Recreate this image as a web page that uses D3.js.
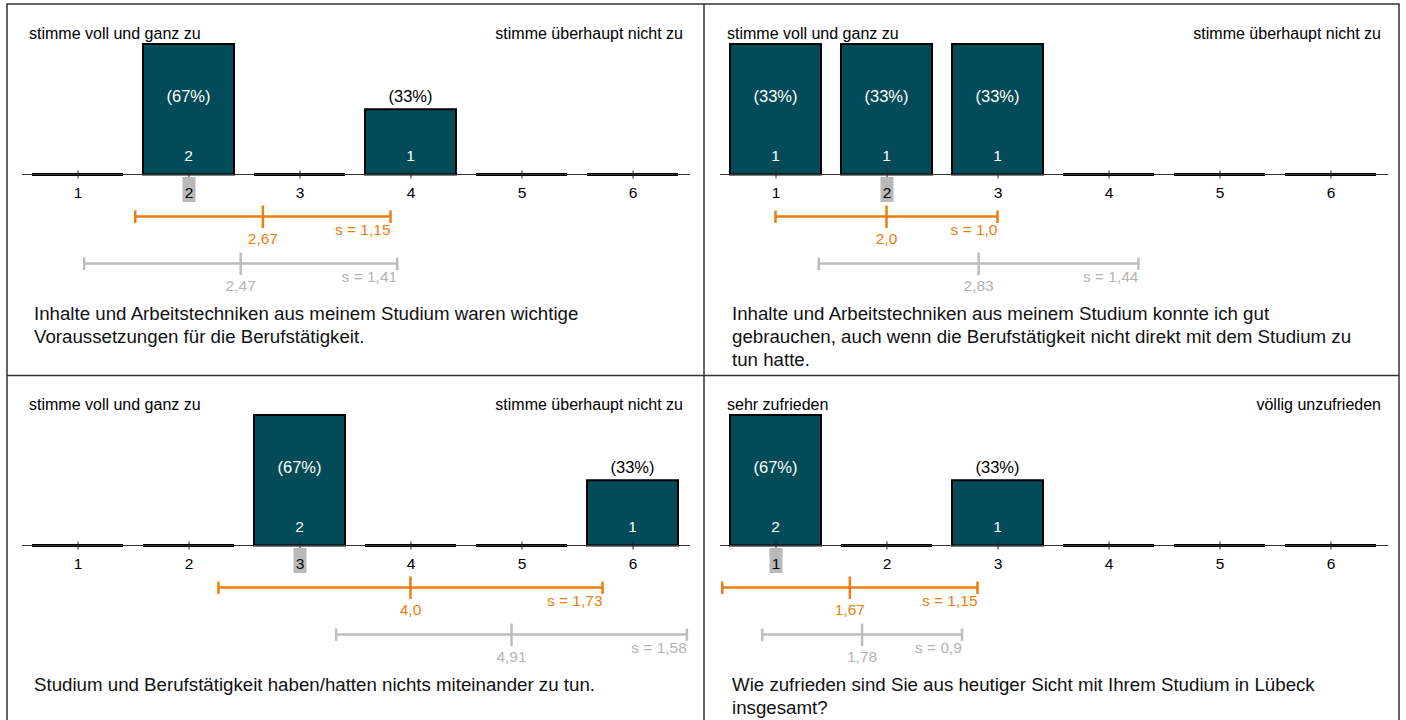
<!DOCTYPE html>
<html><head><meta charset="utf-8">
<script src="https://cdn.jsdelivr.net/npm/d3@7"></script>
<style>
html,body{margin:0;padding:0;background:#fff;}
svg{display:block;font-family:"Liberation Sans",Arial,Helvetica,sans-serif;}
</style></head>
<body><svg id="chart" width="1406" height="720"></svg>
<script>
// ---- data ----
const categories = [1, 2, 3, 4, 5, 6];
const tickLabels = ["1", "2", "3", "4", "5", "6"];
const questions = [
  ["Inhalte und Arbeitstechniken aus meinem Studium waren wichtige", "Voraussetzungen für die Berufstätigkeit."],
  ["Inhalte und Arbeitstechniken aus meinem Studium konnte ich gut", "gebrauchen, auch wenn die Berufstätigkeit nicht direkt mit dem Studium zu", "tun hatte."],
  ["Studium und Berufstätigkeit haben/hatten nichts miteinander zu tun."],
  ["Wie zufrieden sind Sie aus heutiger Sicht mit Ihrem Studium in Lübeck", "insgesamt?"]
];
const leftLabels = ["stimme voll und ganz zu", "stimme voll und ganz zu", "stimme voll und ganz zu", "sehr zufrieden"];
const rightLabels = ["stimme überhaupt nicht zu", "stimme überhaupt nicht zu", "stimme überhaupt nicht zu", "völlig unzufrieden"];
const counts1 = [0, 2, 0, 1, 0, 0];
const counts2 = [1, 1, 1, 0, 0, 0];
const counts3 = [0, 0, 2, 0, 0, 1];
const counts4 = [2, 0, 1, 0, 0, 0];
const medians = [2, 2, 3, 1];
const means = [2.67, 2.0, 4.0, 1.67];
const sds = [1.15, 1.0, 1.73, 1.15];
const refMeans = [2.47, 2.83, 4.91, 1.78];
const refSds = [1.41, 1.44, 1.58, 0.9];

const allCounts = [counts1, counts2, counts3, counts4];
const offsets = [[0, 0], [698, 0], [0, 371], [698, 371]];

const TEAL = "#034b59", ORANGE = "#ee7d0f", GREY = "#bdbdbd", GREYTXT = "#b3b3b3";
const fmt = v => (Number.isInteger(v) ? v.toFixed(1) : String(v)).replace(".", ",");

const svg = d3.select("#chart");

// frame
const frame = svg.append("g").attr("fill", "none").attr("stroke", "#333").attr("stroke-width", 1.5);
frame.append("rect").attr("x", 7).attr("y", 4).attr("width", 1392).attr("height", 730);
frame.append("line").attr("x1", 704).attr("x2", 704).attr("y1", 4).attr("y2", 720);
frame.append("line").attr("x1", 7).attr("x2", 1399).attr("y1", 375.5).attr("y2", 375.5);

const x = d3.scaleLinear().domain([0.5, 6.5]).range([22, 688]);
const step = x(2) - x(1);
const barW = step * 0.82;

allCounts.forEach((counts, i) => {
  const g = svg.append("g").attr("transform", `translate(${offsets[i][0]},${offsets[i][1]})`);
  const total = d3.sum(counts);
  const y = d3.scaleLinear().domain([0, d3.max(counts)]).range([174.5, 44]);

  // end labels
  g.append("text").attr("x", 29).attr("y", 39).attr("font-size", 16).text(leftLabels[i]);
  g.append("text").attr("x", 683).attr("y", 39).attr("font-size", 16).attr("text-anchor", "end").text(rightLabels[i]);

  // bars
  const bars = g.append("g");
  counts.forEach((c, k) => {
    const cx = x(categories[k]);
    if (c > 0) {
      bars.append("rect").attr("x", cx - barW / 2).attr("y", y(c)).attr("width", barW)
        .attr("height", y(0) - y(c)).attr("fill", TEAL).attr("stroke", "#000").attr("stroke-width", 2);
      const inside = y(c) < 88;
      bars.append("text").attr("x", cx).attr("y", 102).attr("text-anchor", "middle").attr("font-size", 16.5)
        .attr("fill", inside ? "#fff" : "#000").text(`(${Math.round(c / total * 100)}%)`);
      bars.append("text").attr("x", cx).attr("y", 161).attr("text-anchor", "middle").attr("font-size", 15.5)
        .attr("fill", "#fff").text(c);
    } else {
      bars.append("line").attr("x1", cx - barW / 2).attr("x2", cx + barW / 2)
        .attr("y1", y(0)).attr("y2", y(0)).attr("stroke", "#000").attr("stroke-width", 3);
    }
  });

  // axis
  const ax = g.append("g").attr("transform", "translate(0,174.5)")
    .call(d3.axisBottom(x).tickValues(categories).tickFormat((d, k) => tickLabels[k])
      .tickSizeInner(4).tickSizeOuter(0).tickPadding(8.5));
  ax.attr("font-family", null).attr("font-size", null);
  ax.select(".domain").attr("stroke", "#333").attr("stroke-width", 1).attr("d", `M22,0H690`);
  ax.selectAll(".tick line").attr("y1", -4).attr("y2", 4).attr("stroke", "#222");
  ax.selectAll(".tick").filter(d => d === medians[i]).insert("rect", "text")
    .attr("x", -6.5).attr("y", 2.5).attr("width", 13).attr("height", 25).attr("fill", "#b9b9b9");
  ax.selectAll(".tick text").attr("font-size", 15.5).attr("fill", "#000");

  // mean / sd bars
  const drawRange = (m, s, yy, col, txtCol, meanY, sY) => {
    const r = g.append("g").attr("stroke", col).attr("stroke-width", 2.5);
    const x0 = x(m - s), x1 = x(m + s), xm = x(m);
    r.append("line").attr("x1", x0).attr("x2", x1).attr("y1", yy).attr("y2", yy);
    r.append("line").attr("x1", x0).attr("x2", x0).attr("y1", yy - 6).attr("y2", yy + 6.5);
    r.append("line").attr("x1", x1).attr("x2", x1).attr("y1", yy - 6).attr("y2", yy + 6.5);
    r.append("line").attr("x1", xm).attr("x2", xm).attr("y1", yy - 11).attr("y2", yy + 11.5);
    g.append("text").attr("x", xm).attr("y", meanY).attr("text-anchor", "middle").attr("font-size", 15.5)
      .attr("fill", txtCol).text(fmt(m));
    g.append("text").attr("x", x1).attr("y", sY).attr("text-anchor", "end").attr("font-size", 15.5)
      .attr("fill", txtCol).text("s = " + fmt(s));
  };
  drawRange(means[i], sds[i], 216.5, ORANGE, ORANGE, 244, 234.5);
  drawRange(refMeans[i], refSds[i], 263.5, GREY, GREYTXT, 291, 282);

  // question
  questions[i].forEach((line, j) => {
    g.append("text").attr("x", 34).attr("y", 319.5 + j * 23).attr("font-size", 18.7).attr("fill", "#111").text(line);
  });
});
</script></body></html>
